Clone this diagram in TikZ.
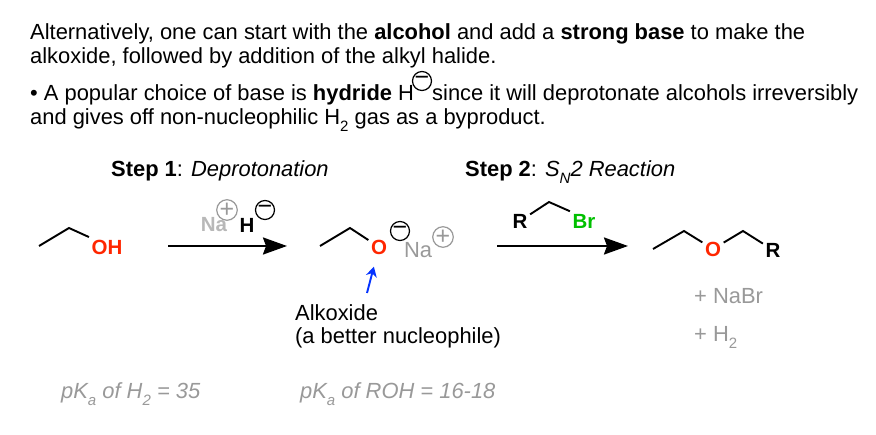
\documentclass[tikz,border=0pt]{standalone}
\usepackage{fontspec}
\setmainfont{Liberation Sans}
\usetikzlibrary{arrows.meta}
\definecolor{atomred}{HTML}{FF2600}
\definecolor{atomgreen}{HTML}{00C000}
\definecolor{arrowblue}{HTML}{0433FF}
\definecolor{notegray}{HTML}{999999}
\definecolor{palegray}{HTML}{B8B8B8}
\newcommand{\lowidx}[1]{\raisebox{-0.3em}{\fontsize{15}{15}\selectfont #1}}
\tikzset{
  bodytext/.style={anchor=base west,inner sep=0pt,font=\fontsize{21.9}{24}\selectfont},
  atomlbl/.style={inner sep=2.5pt,font=\fontsize{20.5}{24}\selectfont\bfseries},
  bond/.style={line width=1.9pt},
  rxnarrow/.style={line width=2.4pt,-{Stealth[length=24pt,width=17pt,inset=3pt]}},
  chgcircle/.style={circle,draw,line width=1.2pt,minimum size=19pt,inner sep=0pt,font=\fontsize{25}{25}\selectfont}
}
\begin{document}
\begin{tikzpicture}[x=1pt,y=1pt]
        \useasboundingbox (0,0) rectangle (876,434);
        \fill[white] (0,0) rectangle (876,434);

        \node[bodytext] (introa) at (30,394) {Alternatively, one can start with the \textbf{alcohol} and add a \textbf{strong base} to make the};
        \node[bodytext] (introb) at (30,370) {alkoxide, followed by addition of the alkyl halide.};
        \node[bodytext] (pointa) at (30,333) {{\textbullet} A popular choice of base is \textbf{hydride} H};
        \node[chgcircle] (hydneg) at (422,353) {−};
        \node[bodytext] (pointb) at (432,333) {since it will deprotonate alcohols irreversibly};
        \node[bodytext] (pointc) at (30,309) {and gives off non-nucleophilic H\lowidx{2} gas as a byproduct.};

        \node[bodytext] (stepa) at (111,257) {\textbf{Step 1}: \textit{Deprotonation}};
        \node[bodytext] (stepb) at (465,257) {\textbf{Step 2}: \textit{S\lowidx{N}2 Reaction}};

        \coordinate (ea) at (39,188);
        \coordinate (eb) at (69,206);
        \node[atomlbl,text=atomred] (oh) at (107,187) {OH};
        \draw[bond] (ea) -- (eb) -- (oh.north west);

        \coordinate (arra) at (168,188);
        \coordinate (arrb) at (287,188);
        \draw[rxnarrow] (arra) -- (arrb);
        \node[atomlbl,text=palegray] (naa) at (214,209) {Na};
        \node[chgcircle,draw=notegray,text=notegray] (posa) at (227,224) {+};
        \node[atomlbl] (hyd) at (247,209) {H};
        \node[chgcircle] (nega) at (265,224) {−};

        \coordinate (fa) at (320,188);
        \coordinate (fb) at (350,206);
        \node[atomlbl,text=atomred] (oxa) at (379,187) {O};
        \draw[bond] (fa) -- (fb) -- (oxa);
        \node[chgcircle] (negb) at (400,203) {−};
        \node[inner sep=0pt,text=notegray,font=\fontsize{21.9}{24}\selectfont] (nab) at (418,184) {Na};
        \node[chgcircle,draw=notegray,text=notegray] (posb) at (443,197) {+};

        \coordinate (blue) at (367,141);
        \draw[arrowblue,line width=1.9pt,shorten >=10pt,-{Stealth[length=10pt,width=11pt]}] (blue) -- (oxa);

        \node[bodytext] (alka) at (295,113) {Alkoxide};
        \node[bodytext] (alkb) at (295,90) {(a better nucleophile)};

        \coordinate (arrc) at (497,188);
        \coordinate (arrd) at (628,188);
        \draw[rxnarrow] (arrc) -- (arrd);
        \node[atomlbl] (ra) at (520,213) {R};
        \coordinate (ga) at (549,232);
        \node[atomlbl,text=atomgreen] (br) at (584,213) {Br};
        \draw[bond] (ra) -- (ga) -- (br.north west);

        \coordinate (ha) at (653,185);
        \coordinate (hb) at (684,203);
        \node[atomlbl,text=atomred] (oxb) at (713,185) {O};
        \coordinate (hc) at (743,203);
        \node[atomlbl] (rb) at (773,184) {R};
        \draw[bond] (ha) -- (hb) -- (oxb) -- (hc) -- (rb);

        \node[bodytext,text=notegray] (nabr) at (694,130) {+ NaBr};
        \node[bodytext,text=notegray] (hgas) at (694,92) {+ H\lowidx{2}};

        \node[bodytext,text=notegray,font=\fontsize{21.9}{24}\selectfont\itshape] (pka) at (61,35) {pK\lowidx{a} of H\lowidx{2} = 35};
        \node[bodytext,text=notegray,font=\fontsize{21.9}{24}\selectfont\itshape] (pkb) at (300,35) {pK\lowidx{a} of ROH = 16-18};
      \end{tikzpicture}
\end{document}
